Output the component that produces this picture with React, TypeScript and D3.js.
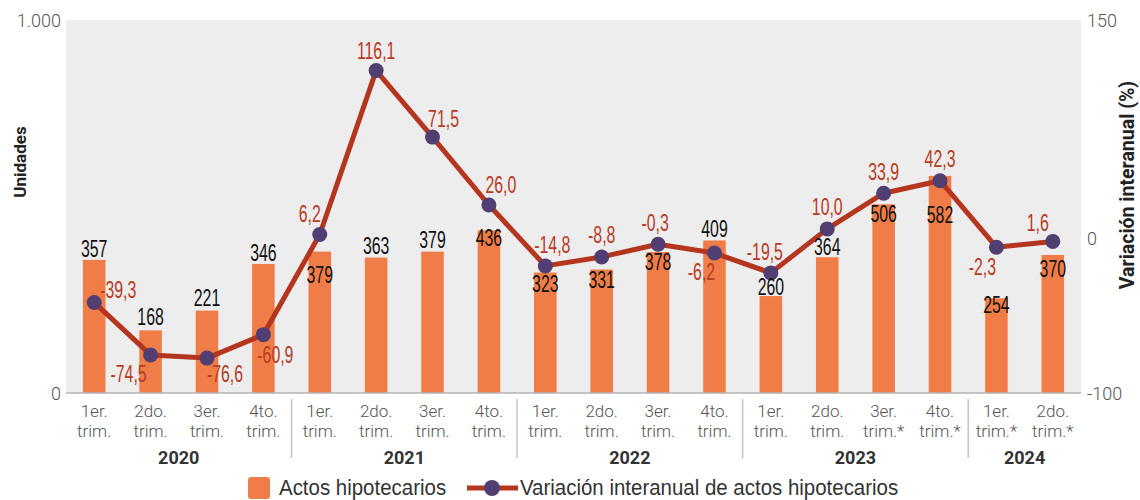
import React, { useRef, useEffect } from 'react';
import * as d3 from 'd3';

// datos
const quarters = ['1er.', '2do.', '3er.', '4to.', '1er.', '2do.', '3er.', '4to.', '1er.', '2do.', '3er.', '4to.', '1er.', '2do.', '3er.', '4to.', '1er.', '2do.'];
const quarterSub = ['trim.', 'trim.', 'trim.', 'trim.', 'trim.', 'trim.', 'trim.', 'trim.', 'trim.', 'trim.', 'trim.', 'trim.', 'trim.', 'trim.', 'trim.*', 'trim.*', 'trim.*', 'trim.*'];
const years = ['2020', '2021', '2022', '2023', '2024'];
const yearSize = [4, 4, 4, 4, 2];
const actos = [357, 168, 221, 346, 379, 363, 379, 436, 323, 331, 378, 409, 260, 364, 506, 582, 254, 370];
const variacion = [-39.3, -74.5, -76.6, -60.9, 6.2, 116.1, 71.5, 26.0, -14.8, -8.8, -0.3, -6.2, -19.5, 10.0, 33.9, 42.3, -2.3, 1.6];

// colocación de etiquetas (desplazamiento respecto a la marca)
const barLabelDy = [-3, -5, -5, -3, 31, -4, -4, 16, 19, 18, 18, -3, -1, -2, 18, 47, 15, 22];
const lineLabelOff = [[24, -4], [-22, 27], [18, 24], [12, 28], [-10, -13], [0, -12], [11, -10], [12, -12], [7, -13], [0, -14], [-3, -13], [-13, 27], [-6, -13], [0, -14], [0, -13], [0, -14], [-14, 28], [-15, -10]];

const W = 1140, H = 500;
const m = { left: 66, right: 1081, top: 20, bottom: 393 };

const C = {
  bg: '#ededed',
  bar: '#f07d47',
  line: '#b5361e',
  dot: '#523f72',
  lab: '#b83a22',
};

const fmt = (v: number) => v.toFixed(1).replace('.', ',');

const App = () => {
  const ref = useRef<SVGSVGElement>(null);

  useEffect(() => {
    const svg = d3.select(ref.current);
    svg.selectAll('*').remove();

    const idx = d3.range(actos.length);
    const x = d3.scaleBand<number>().domain(idx).range([m.left, m.right]).paddingInner(0.6).paddingOuter(0.3);
    const cx = (i: number) => (x(i) as number) + x.bandwidth() / 2;
    const y = d3.scaleLinear().domain([0, 1000]).range([m.bottom, m.top]);
    const y2 = d3.scaleLinear().domain([-100, 150]).range([m.bottom, m.top]);
    const step = (m.right - m.left) / actos.length;

    svg.append('rect')
      .attr('x', m.left).attr('y', m.top)
      .attr('width', m.right - m.left).attr('height', m.bottom - m.top)
      .attr('fill', C.bg);

    // barras
    svg.append('g').selectAll('rect').data(actos).join('rect')
      .attr('x', (d, i) => x(i) as number)
      .attr('y', d => y(d))
      .attr('width', x.bandwidth())
      .attr('height', d => y(0) - y(d))
      .attr('fill', C.bar);

    svg.append('line')
      .attr('x1', m.left).attr('x2', m.right)
      .attr('y1', m.bottom).attr('y2', m.bottom)
      .attr('stroke', '#b5b5b5').attr('stroke-width', 1.5);

    // línea
    const line = d3.line<number>().x((d, i) => cx(i)).y(d => y2(d));
    svg.append('path').datum(variacion)
      .attr('d', line)
      .attr('fill', 'none')
      .attr('stroke', C.line)
      .attr('stroke-width', 5)
      .attr('stroke-linejoin', 'round');

    svg.append('g').selectAll('circle').data(variacion).join('circle')
      .attr('cx', (d, i) => cx(i))
      .attr('cy', d => y2(d))
      .attr('r', 7.5)
      .attr('fill', C.dot);

    // no hay fuente condensada: Liberation Sans estrechada
    const cond = '"Liberation Sans", Arial, sans-serif';
    const sx = 0.69;

    // etiquetas de barras
    svg.append('g').selectAll('text').data(actos).join('text')
      .attr('transform', (d, i) => `translate(${cx(i)},${y(d) + barLabelDy[i]}) scale(${sx},1)`)
      .attr('text-anchor', 'middle')
      .attr('font-family', cond)
      .attr('font-size', 23)
      .attr('fill', '#111')
      .text(d => d);

    // etiquetas de variación
    svg.append('g').selectAll('text').data(variacion).join('text')
      .attr('transform', (d, i) => `translate(${cx(i) + lineLabelOff[i][0]},${y2(d) + lineLabelOff[i][1]}) scale(${sx},1)`)
      .attr('text-anchor', 'middle')
      .attr('font-family', cond)
      .attr('font-size', 23)
      .attr('fill', C.lab)
      .text(d => fmt(d));

    const sans = 'Roboto, "Liberation Sans", sans-serif';

    // eje x
    const xa = svg.append('g').attr('font-family', sans).attr('font-size', 17).attr('font-weight', 300).attr('fill', '#555');
    xa.selectAll('text.q1').data(quarters).join('text')
      .attr('class', 'q1')
      .attr('x', (d, i) => cx(i)).attr('y', 417)
      .attr('text-anchor', 'middle')
      .text(d => d);
    xa.selectAll('text.q2').data(quarterSub).join('text')
      .attr('class', 'q2')
      .attr('x', (d, i) => cx(i)).attr('y', 437)
      .attr('text-anchor', 'middle')
      .text(d => d);

    const starts = yearSize.map((s, i) => d3.sum(yearSize.slice(0, i)));
    svg.append('g').selectAll('text').data(years).join('text')
      .attr('x', (d, i) => m.left + (starts[i] + yearSize[i] / 2) * step)
      .attr('y', 464)
      .attr('text-anchor', 'middle')
      .attr('font-family', sans)
      .attr('font-size', 18)
      .attr('font-weight', 700)
      .attr('fill', '#333')
      .text(d => d);

    svg.append('g').selectAll('line').data(starts.slice(1)).join('line')
      .attr('x1', d => m.left + d * step).attr('x2', d => m.left + d * step)
      .attr('y1', 399).attr('y2', 458)
      .attr('stroke', '#c4c4c4').attr('stroke-width', 1.5);

    // ejes y
    const ya = svg.append('g').attr('font-family', sans).attr('font-size', 18).attr('font-weight', 300).attr('fill', '#555');
    [0, 1000].forEach(v => {
      ya.append('text')
        .attr('x', 61).attr('y', y(v) + 7)
        .attr('text-anchor', 'end')
        .text(d3.format(',')(v).replace(',', '.'));
    });
    [-100, 0, 150].forEach(v => {
      ya.append('text')
        .attr('x', 1087).attr('y', v === 0 ? y2(v) + 1 : y2(v) + 7)
        .attr('text-anchor', 'start')
        .text(v);
    });

    svg.append('text')
      .attr('transform', 'translate(26,162) rotate(-90)')
      .attr('text-anchor', 'middle')
      .attr('font-family', sans).attr('font-size', 17).attr('font-weight', 700).attr('fill', '#222')
      .text('Unidades');
    svg.append('text')
      .attr('transform', 'translate(1134,185) rotate(-90)')
      .attr('text-anchor', 'middle')
      .attr('font-family', sans).attr('font-size', 19.5).attr('font-weight', 700).attr('fill', '#222')
      .text('Variación interanual (%)');

    // leyenda
    const lg = svg.append('g').attr('font-family', cond).attr('font-size', 22).attr('fill', '#333');
    lg.append('rect').attr('x', 248).attr('y', 477).attr('width', 22).attr('height', 22).attr('rx', 3).attr('fill', C.bar);
    lg.append('text').attr('transform', 'translate(279,495) scale(0.93,1)').text('Actos hipotecarios');
    lg.append('line').attr('x1', 467).attr('x2', 518).attr('y1', 488).attr('y2', 488)
      .attr('stroke', C.line).attr('stroke-width', 5);
    lg.append('circle').attr('cx', 492).attr('cy', 488).attr('r', 8).attr('fill', C.dot);
    lg.append('text').attr('transform', 'translate(520,495) scale(0.93,1)').text('Variación interanual de actos hipotecarios');
  }, []);

  return (
    <svg ref={ref} width={W} height={H} style={{ position: 'absolute', left: 0, top: 0, background: '#fff' }} />
  );
};

export default App;
